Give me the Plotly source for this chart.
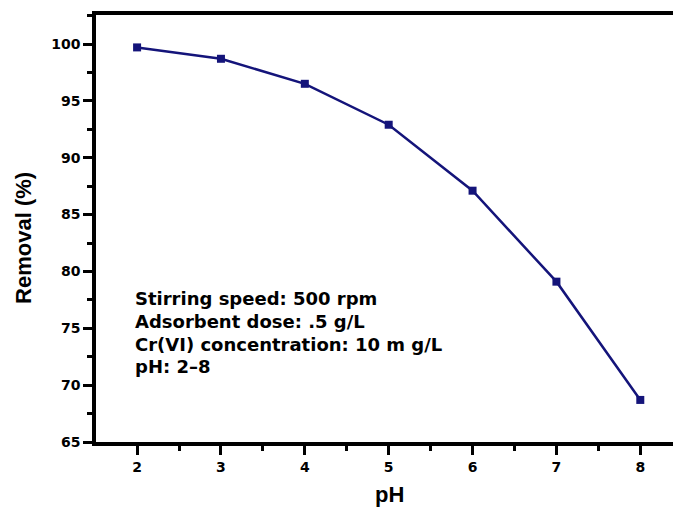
import plotly.graph_objects as go

ph = [2, 3, 4, 5, 6, 7, 8]
removal = [99.7, 98.7, 96.5, 92.9, 87.1, 79.1, 68.7]
y_ticks = [65, 70, 75, 80, 85, 90, 95, 100]
x_ticks = [2, 3, 4, 5, 6, 7, 8]
notes = ["Stirring speed: 500 rpm", "Adsorbent dose: .5 g/L",
         "Cr(VI) concentration: 10 m g/L", "pH: 2\u20138"]
note_y = [77.66, 75.64, 73.61, 71.68]

fig = go.Figure()
fig.add_trace(go.Scatter(x=ph, y=removal, mode="lines+markers",
                         line=dict(color="#14147a", width=2.5),
                         marker=dict(symbol="square", size=8, color="#14147a")))

font_main = "Arial, Liberation Sans, sans-serif"
for t, yy in zip(notes, note_y):
    fig.add_annotation(x=1.95, y=yy, xref="x", yref="y", text="<b>" + t + "</b>",
                       showarrow=False, xanchor="left", yanchor="middle",
                       font=dict(family="DejaVu Sans", size=18, color="black"))

# axis titles
fig.add_annotation(x=-0.1248, y=0.478, xref="paper", yref="paper",
                   text="<b>Removal (%)</b>", textangle=-90, showarrow=False,
                   xanchor="center", yanchor="middle",
                   font=dict(family=font_main, size=22, color="black"))
fig.add_annotation(x=0.508, y=-0.124, xref="paper", yref="paper",
                   text="<b>pH</b>", showarrow=False,
                   xanchor="center", yanchor="middle",
                   font=dict(family=font_main, size=22, color="black"))

fig.update_layout(
    width=673, height=510,
    margin=dict(l=96, r=0, t=15, b=68),
    plot_bgcolor="white", paper_bgcolor="white",
    showlegend=False,
    font=dict(family=font_main, color="black"),
)
tick_font = dict(family="DejaVu Sans", size=14, color="black")
fig.update_xaxes(range=[1.51, 8.39], tickvals=x_ticks,
                 ticktext=["<b>%d</b>" % v for v in x_ticks],
                 showgrid=False, zeroline=False, showline=True, linecolor="black",
                 linewidth=3.5, mirror=True, ticks="outside", ticklen=9, tickwidth=3,
                 tickcolor="black", tickfont=tick_font,
                 minor=dict(dtick=0.5, tick0=1.5, ticks="outside", ticklen=5, tickwidth=2.5, tickcolor="black"))
fig.update_yaxes(range=[65, 102.55], tickvals=y_ticks,
                 ticktext=["<b>%d</b>" % v for v in y_ticks],
                 showgrid=False, zeroline=False, showline=True, linecolor="black",
                 linewidth=3.5, ticks="outside", ticklen=9, tickwidth=3,
                 tickcolor="black", tickfont=tick_font,
                 minor=dict(dtick=2.5, tick0=65, ticks="outside", ticklen=5, tickwidth=2.5, tickcolor="black"))

fig.write_html("out.html")
